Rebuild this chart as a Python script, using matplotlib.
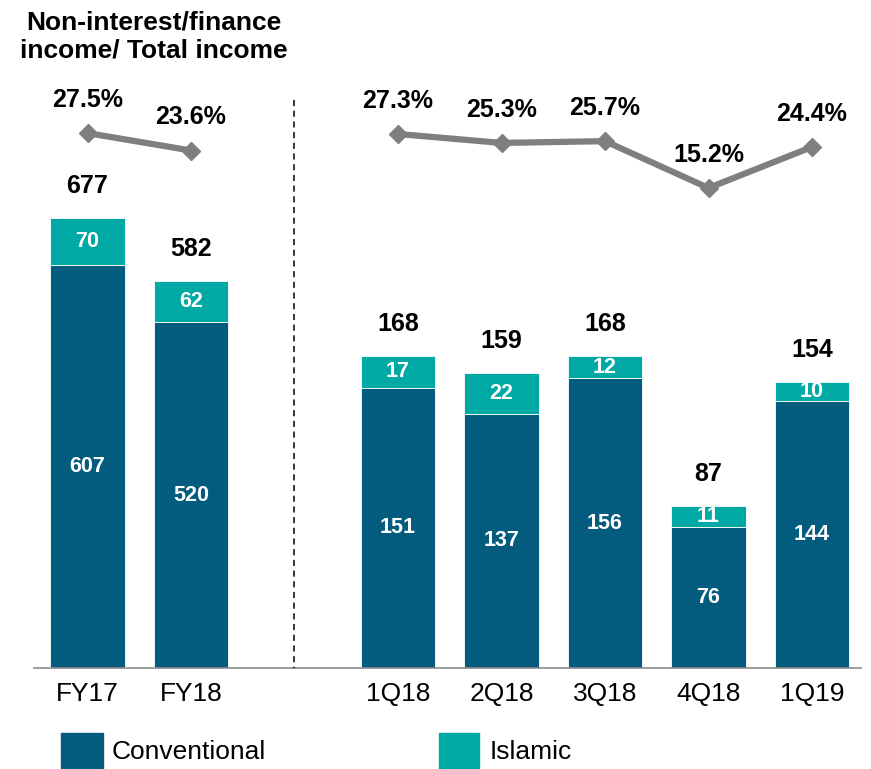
import matplotlib
matplotlib.use("Agg")
import matplotlib.pyplot as plt
from matplotlib.patches import Rectangle
from matplotlib.lines import Line2D
import numpy as np

plt.rcParams['font.family'] = ['Liberation Sans', 'DejaVu Sans']

# Annual figures
fy_labels = ["FY17", "FY18"]
fy_conventional = [607, 520]
fy_islamic = [70, 62]
fy_total = [677, 582]
fy_ratio = [27.5, 23.6]

# Quarterly figures
q_labels = ["1Q18", "2Q18", "3Q18", "4Q18", "1Q19"]
q_conventional = [151, 137, 156, 76, 144]
q_islamic = [17, 22, 12, 11, 10]
q_total = [168, 159, 168, 87, 154]
q_ratio = [27.3, 25.3, 25.7, 15.2, 24.4]

C_CONV = "#035B7E"
C_ISL = "#00A9A4"
C_LINE = "#7F7F7F"

W, H = 871, 769
fig = plt.figure(figsize=(W / 100, H / 100), dpi=100)

def fx(px):
    return px / W

def fy(py):
    return 1 - py / H

slot = 103.5
x0 = 87.5
bottom_px, top_px = 668, 100
ax_h = (bottom_px - top_px) / H
ax_b = fy(bottom_px)

left_l, left_r = x0 - 0.5 * slot - 2, x0 + 2.0 * slot
right_l, right_r = x0 + 2.0 * slot, 861

ax_fy = fig.add_axes([fx(left_l), ax_b, fx(left_r - left_l), ax_h])
ax_q = fig.add_axes([fx(right_l), ax_b, fx(right_r - right_l), ax_h])
ax_line = fig.add_axes([fx(left_l), ax_b, fx(right_r - left_l), ax_h])

ax_fy.set_xlim((left_l - x0) / slot, 2.0)
ax_q.set_xlim(2.0, (right_r - x0) / slot)
ax_line.set_xlim((left_l - x0) / slot, (right_r - x0) / slot)

ax_fy.set_ylim(0, 568 / (450 / 677))
ax_q.set_ylim(0, 568 / (312 / 168))
ppv = 54 / 12.1
y0px = 134 + 27.3 * ppv
ax_line.set_ylim((y0px - bottom_px) / ppv, (y0px - top_px) / ppv)
ax_line.axis("off")

bw = 0.715
fy_x = np.arange(len(fy_labels))
q_x = np.arange(len(q_labels)) + 3

def draw_bars(ax, xs, conv, isl, tot):
    ax.bar(xs, conv, width=bw, color=C_CONV, edgecolor="white", linewidth=0.6, zorder=2)
    ax.bar(xs, isl, width=bw, bottom=conv, color=C_ISL, edgecolor="white", linewidth=0.6, zorder=2)
    for x, c, i, t in zip(xs, conv, isl, tot):
        ax.text(x, c / 2, f"{c}", ha="center", va="center", color="white",
                fontsize=15.5, fontweight="bold", zorder=3)
        ax.text(x, c + i / 2, f"{i}", ha="center", va="center", color="white",
                fontsize=15.5, fontweight="bold", zorder=3)
        ax.annotate(f"{t}", (x, c + i), xytext=(0, 23), textcoords="offset points",
                    ha="center", va="center", fontsize=18, fontweight="bold", color="black")
    for s in ["top", "right", "left"]:
        ax.spines[s].set_visible(False)
    ax.spines["bottom"].set_color("#8C8C8C")
    ax.spines["bottom"].set_linewidth(1.2)
    ax.set_yticks([])
    ax.set_xticks(xs)
    ax.tick_params(axis="x", length=0, pad=10, labelsize=19)
    ax.patch.set_alpha(0)

draw_bars(ax_fy, fy_x, fy_conventional, fy_islamic, fy_total)
draw_bars(ax_q, q_x, q_conventional, q_islamic, q_total)
ax_fy.set_xticklabels(fy_labels)
ax_q.set_xticklabels(q_labels)

# Ratio line (broken between annual and quarterly groups)
for xs, vals in [(fy_x, fy_ratio), (q_x, q_ratio)]:
    ax_line.plot(xs, vals, color=C_LINE, linewidth=4.5, marker="D", markersize=9,
                 markerfacecolor=C_LINE, markeredgecolor=C_LINE, solid_joinstyle="miter",
                 zorder=4)
    for x, v in zip(xs, vals):
        ax_line.annotate(f"{v:.1f}%", (x, v), xytext=(0, 24), textcoords="offset points",
                         ha="center", va="center", fontsize=18, fontweight="bold", color="black")

# Divider between annual and quarterly
fig.add_artist(Line2D([fx(294), fx(294)], [fy(100), fy(668)], color="black",
                      linewidth=1.1, linestyle=(0, (4, 3))))

# Title
fig.text(fx(154), fy(11), "Non-interest/finance\nincome/ Total income", ha="center", va="top",
         fontsize=19, fontweight="bold", linespacing=1.18, multialignment="center")

# Legend
fig.add_artist(Rectangle((fx(61), fy(769)), fx(42), 36 / H, color=C_CONV, transform=fig.transFigure))
fig.text(fx(112), fy(752), "Conventional", ha="left", va="center", fontsize=19)
fig.add_artist(Rectangle((fx(439), fy(769)), fx(40), 36 / H, color=C_ISL, transform=fig.transFigure))
fig.text(fx(490), fy(752), "Islamic", ha="left", va="center", fontsize=19)

fig.savefig("out.png", dpi=100)
